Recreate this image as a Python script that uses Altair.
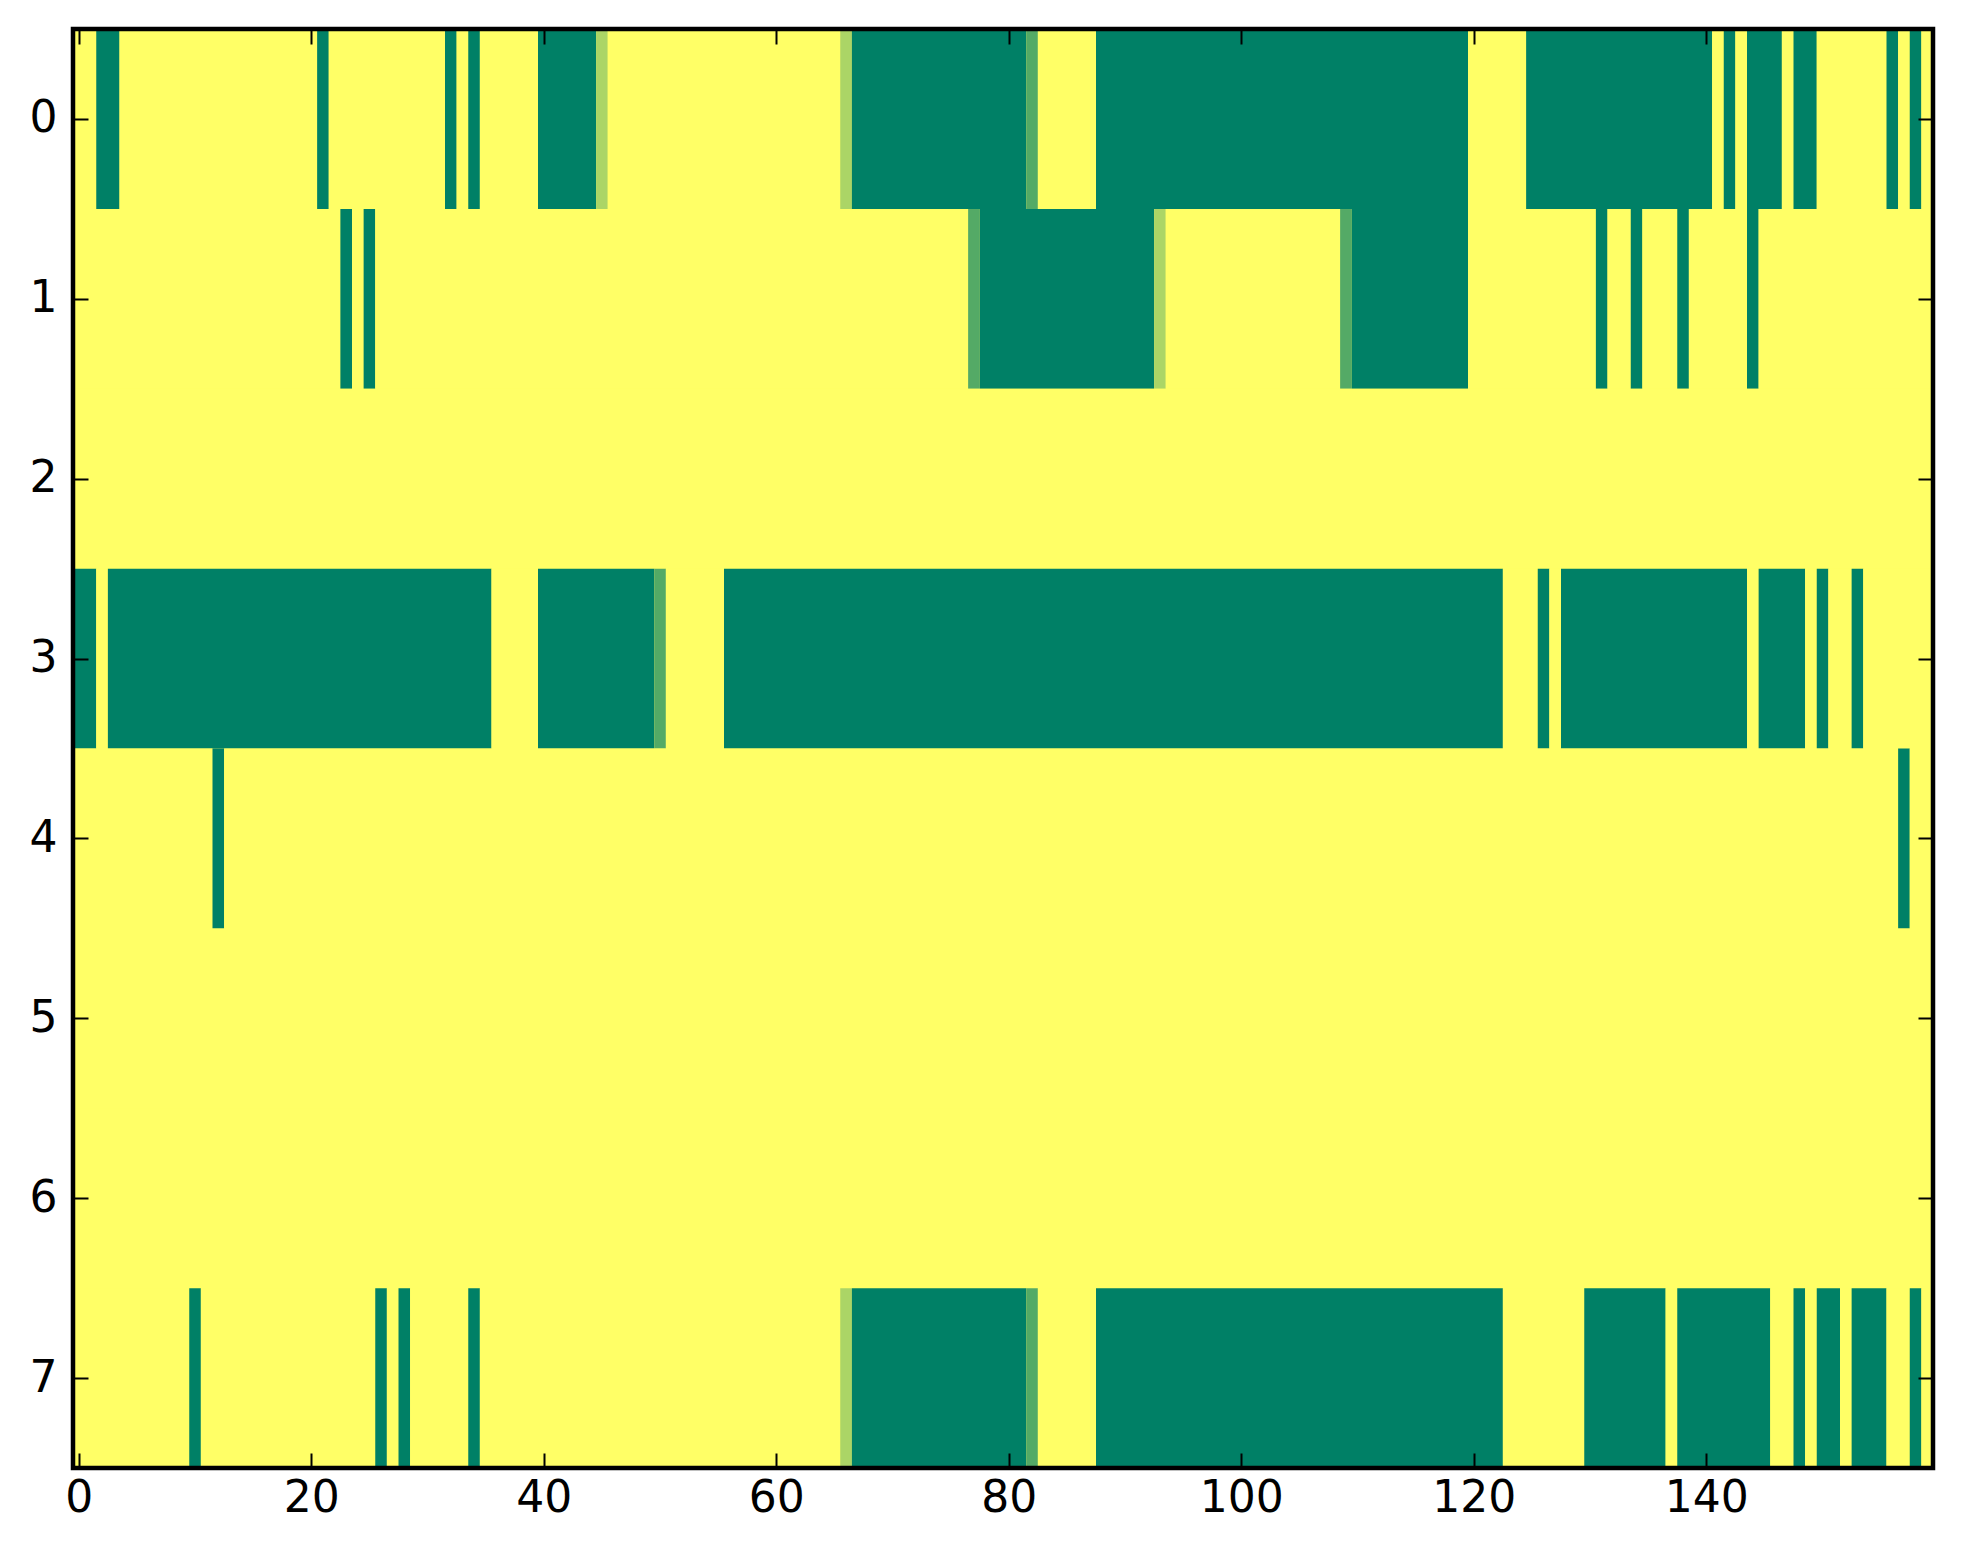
import altair as alt
import pandas as pd

N_COLS = 160
X_TICKS = [0, 20, 40, 60, 80, 100, 120, 140]
Y_TICKS = [0, 1, 2, 3, 4, 5, 6, 7]

# green (value 0) column spans per row, inclusive; everything else is yellow (value 1)
row0_green = [(2, 3), (21, 21), (32, 32), (34, 34), (40, 44), (67, 81), (88, 119),
              (125, 140), (142, 142), (144, 146), (148, 149), (156, 156), (158, 158)]
row0_partial = {45: 0.67, 66: 0.67, 82: 0.33}

row1_green = [(23, 23), (25, 25), (78, 92), (110, 119), (131, 131), (134, 134),
              (138, 138), (144, 144)]
row1_partial = {77: 0.33, 93: 0.67, 109: 0.33}

row2_green = []
row2_partial = {}

row3_green = [(0, 1), (3, 35), (40, 49), (56, 122), (126, 126), (128, 143),
              (145, 148), (150, 150), (153, 153)]
row3_partial = {50: 0.33}

row4_green = [(12, 12), (157, 157)]
row4_partial = {}

row5_green = []
row5_partial = {}

row6_green = []
row6_partial = {}

row7_green = [(10, 10), (26, 26), (28, 28), (34, 34), (67, 81), (88, 122),
              (130, 136), (138, 145), (148, 148), (150, 151), (153, 155), (158, 158)]
row7_partial = {66: 0.67, 82: 0.33}

ROW_DEFS = [
    (row0_green, row0_partial), (row1_green, row1_partial),
    (row2_green, row2_partial), (row3_green, row3_partial),
    (row4_green, row4_partial), (row5_green, row5_partial),
    (row6_green, row6_partial), (row7_green, row7_partial),
]


def build_row(spans, partial):
    vals = [1.0] * N_COLS
    for a, b in spans:
        for c in range(a, b + 1):
            vals[c] = 0.0
    for c, v in partial.items():
        vals[c] = v
    return vals


records = []
for r, (spans, partial) in enumerate(ROW_DEFS):
    vals = build_row(spans, partial)
    start = 0
    for c in range(1, N_COLS + 1):
        if c == N_COLS or vals[c] != vals[start]:
            records.append(dict(row=r, x0=start - 0.5, x1=c - 0.5,
                                y0=r - 0.5, y1=r + 0.5, v=vals[start]))
            start = c
df = pd.DataFrame(records)

W, H = 1860, 1439
FONT = "DejaVu Sans"
FS = 44

xs = alt.Scale(domain=[-0.5, N_COLS - 0.5], nice=False, zero=False)
ys = alt.Scale(domain=[-0.5, 7.5], nice=False, zero=False, reverse=True)

common_axis = dict(offset=-15, tickSize=15, tickWidth=2, tickColor="black",
                   domain=False, grid=False, title=None, zindex=2)

heat = alt.Chart(df).mark_rect(strokeWidth=0).encode(
    x=alt.X("x0:Q", scale=xs,
            axis=alt.Axis(values=X_TICKS, orient="bottom", labelFont=FONT,
                          labelFontSize=FS, labelColor="black", labelPadding=8,
                          labelFlush=False, labelOverlap=False, **common_axis)),
    x2="x1:Q",
    y=alt.Y("y0:Q", scale=ys,
            axis=alt.Axis(values=Y_TICKS, orient="left", labelFont=FONT,
                          labelFontSize=FS, labelColor="black", labelPadding=16,
                          labelFlush=False, labelOverlap=False, **common_axis)),
    y2="y1:Q",
    color=alt.Color("v:Q", legend=None,
                    scale=alt.Scale(domain=[0, 1], range=["#008066", "#ffff66"],
                                    interpolate="rgb")),
)

ticks2 = alt.Chart(df).mark_rect(opacity=0).encode(
    x=alt.X("x0:Q", scale=xs,
            axis=alt.Axis(values=X_TICKS, orient="top", labels=False, **common_axis)),
    x2="x1:Q",
    y=alt.Y("y0:Q", scale=ys,
            axis=alt.Axis(values=Y_TICKS, orient="right", labels=False, **common_axis)),
    y2="y1:Q",
)

frame = alt.Chart(pd.DataFrame({"k": [0]})).mark_rect(
    fillOpacity=0, stroke="black", strokeWidth=4.5
).encode(x=alt.value(0), x2=alt.value(W), y=alt.value(0), y2=alt.value(H))

chart = alt.layer(heat, ticks2, frame).resolve_axis(
    x="independent", y="independent"
).properties(
    width=W, height=H,
    autosize=alt.AutoSizeParams(type="none"),
    padding={"left": 65, "top": 21, "right": 20, "bottom": 80},
    background="white",
).configure_view(stroke=None, fill="#ffff66")

chart.save("out.html", embed_options={"renderer": "svg", "actions": False})
